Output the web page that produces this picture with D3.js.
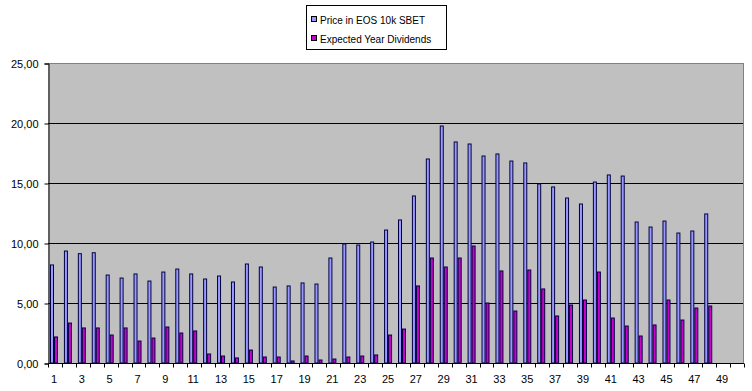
<!DOCTYPE html>
<html><head><meta charset="utf-8">
<script src="https://cdn.jsdelivr.net/npm/d3@7/dist/d3.min.js"></script>
<style>body{margin:0;background:#fff}svg text{font-family:Arial,"Liberation Sans",sans-serif;font-size:11px;fill:#000}</style>
</head><body><svg id="c" width="752" height="391"></svg>
<script>
const categories = d3.range(1, 51).map(String);
const seriesNames = ["Price in EOS 10k SBET", "Expected Year Dividends"];
const price = [8.17,9.33,9.11,9.19,7.33,7.08,7.42,6.83,7.58,7.83,7.42,7.0,7.25,6.75,8.25,8.0,6.33,6.42,6.67,6.58,8.75,9.92,9.83,10.08,11.08,11.92,13.92,17.0,19.75,18.42,18.25,17.25,17.42,16.83,16.67,14.92,14.67,13.75,13.25,15.08,15.67,15.58,11.75,11.33,11.83,10.83,11.0,12.42,null,null];
const dividends = [2.17,3.33,2.92,2.92,2.33,2.92,1.83,2.08,3.0,2.5,2.67,0.75,0.58,0.42,1.08,0.5,0.5,0.17,0.58,0.25,0.33,0.5,0.58,0.67,2.33,2.83,6.42,8.75,8.0,8.75,9.75,5.0,7.67,4.33,7.75,6.17,3.92,4.83,5.25,7.58,3.75,3.08,2.25,3.17,5.25,3.58,4.58,4.75,null,null];
const yTicks = [0,5,10,15,20,25];
const colors = ["#9999FF", "#CC00CC"];

const svg = d3.select("#c");
const L = 48, R = 744, T = 63, B = 363;
const x = d3.scaleBand().domain(categories).range([L, R]).padding(0);
const y = d3.scaleLinear().domain([0, 25]).range([B, T]);
const inner = d3.scaleBand().domain([0,1]).range([0, 8]).padding(0);
const groupOff = 2;

svg.append("rect").attr("x", L).attr("y", T).attr("width", R - L).attr("height", B - T).attr("fill", "#C0C0C0");
svg.append("g").selectAll("line").data(yTicks.slice(1)).join("line")
  .attr("x1", L).attr("x2", R).attr("y1", d => y(d) + 0.5).attr("y2", d => y(d) + 0.5)
  .attr("stroke", d => d === 25 ? "#808080" : "#000").attr("stroke-width", 1);
svg.append("line").attr("x1", R - 0.5).attr("x2", R - 0.5).attr("y1", T).attr("y2", B).attr("stroke", "#808080");

[price, dividends].forEach((vals, si) => {
  svg.append("g").selectAll("rect").data(categories.map((c, i) => ({c, v: vals[i]})).filter(d => d.v != null)).join("rect")
    .attr("x", d => x(d.c) + groupOff + inner(si) + 0.5)
    .attr("width", inner.bandwidth() - 1)
    .attr("y", d => y(d.v))
    .attr("height", d => y(0) - y(d.v))
    .attr("fill", colors[si]).attr("stroke", "#000040").attr("stroke-width", 1);
});

const yAxis = d3.axisLeft(y).tickValues(yTicks).tickSize(4).tickPadding(6)
  .tickFormat(d => d3.format(".2f")(d).replace(".", ","));
const gy = svg.append("g").attr("transform", `translate(${L + 0.5},0.5)`).call(yAxis);
gy.select(".domain").attr("stroke", "#000");
gy.selectAll(".tick line").attr("stroke", "#000");
gy.selectAll("text").style("font-size", "11px").style("font-family", "Arial, 'Liberation Sans', sans-serif").attr("fill", "#000");

const gx = svg.append("g").attr("transform", `translate(0,${B + 0.5})`);
gx.append("line").attr("x1", L).attr("x2", R).attr("y1", 0).attr("y2", 0).attr("stroke", "#000");
const bounds = categories.map(c => x(c)).concat([R]);
gx.selectAll("line.t").data(bounds).join("line").attr("class", "t")
  .attr("x1", d => Math.round(d) + 0.5).attr("x2", d => Math.round(d) + 0.5).attr("y1", 0).attr("y2", 4).attr("stroke", "#000");
gx.selectAll("text").data(categories.filter((c, i) => i % 2 === 0)).join("text")
  .attr("x", d => x(d) + x.bandwidth() / 2 - 1).attr("y", 19).attr("text-anchor", "middle").text(d => d);

const lg = svg.append("g");
lg.append("rect").attr("x", 306.5).attr("y", 5.5).attr("width", 140).attr("height", 44).attr("fill", "#fff").attr("stroke", "#000");
seriesNames.forEach((n, i) => {
  const yy = 20 + i * 19;
  lg.append("rect").attr("x", 311.5).attr("y", yy - 3.5).attr("width", 5).attr("height", 5).attr("fill", colors[i]).attr("stroke", "#000");
  lg.append("text").attr("x", 320).attr("y", yy + 3.5).style("font-size", "10px").text(n);
});
</script></body></html>
